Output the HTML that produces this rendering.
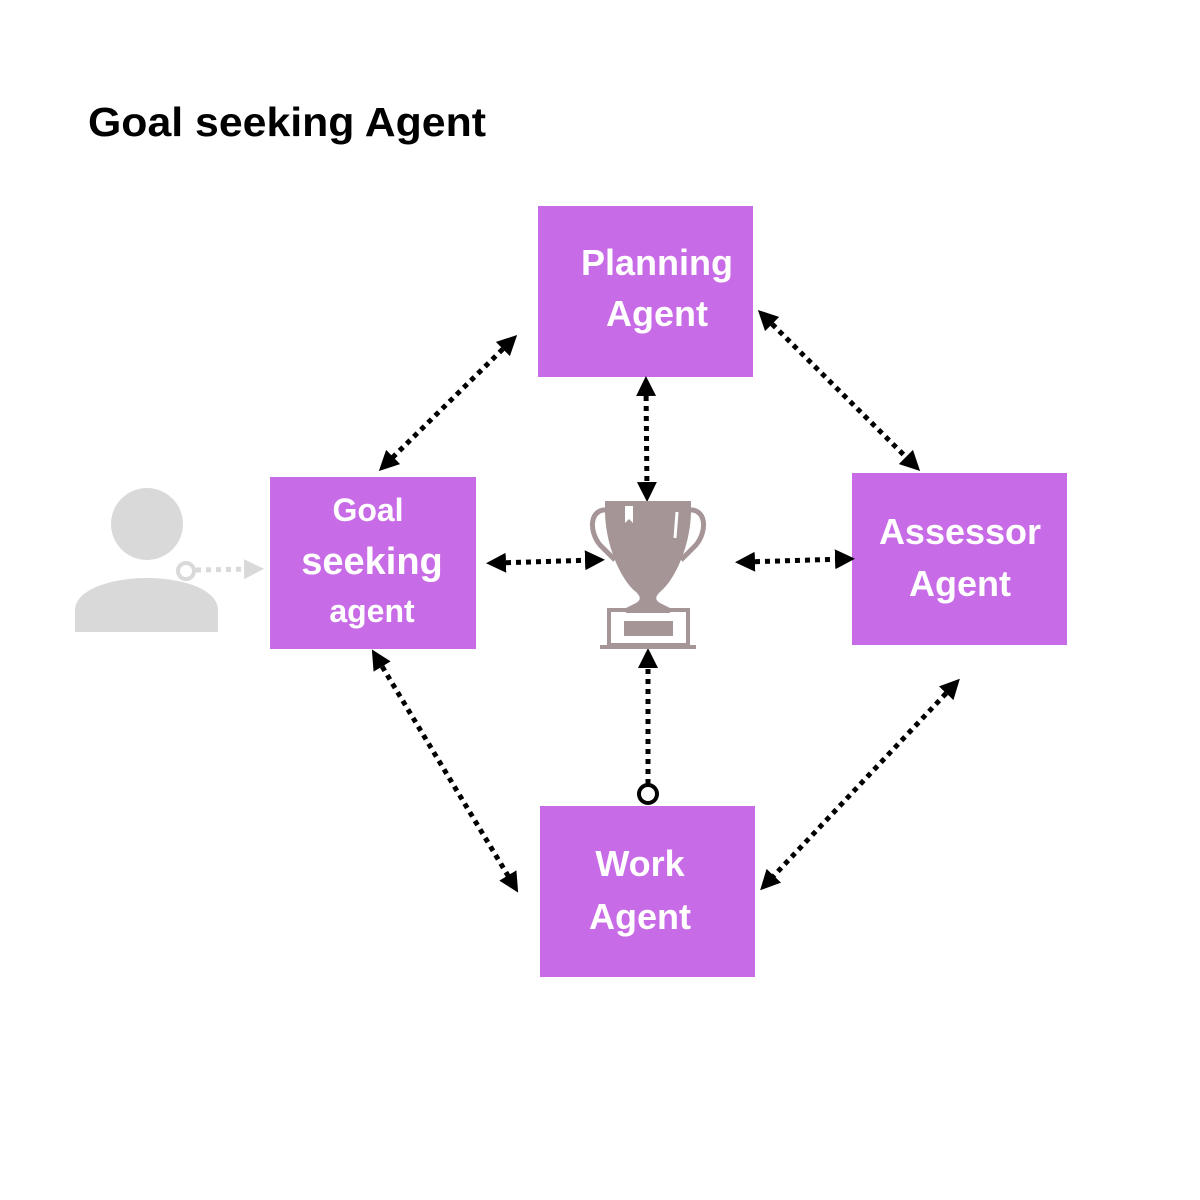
<!DOCTYPE html>
<html><head><style>
body{margin:0;background:#fff}
svg{display:block}
text{font-family:"Liberation Sans",sans-serif;font-weight:bold;fill:#fff}
</style></head><body>
<svg width="1200" height="1200" viewBox="0 0 1200 1200">
<defs>
<marker id="a" markerWidth="4" markerHeight="4" refX="2" refY="2" orient="auto-start-reverse" markerUnits="strokeWidth">
<path d="M0,0 L4,2 L0,4 Z" fill="#000"/></marker>
<marker id="g" markerWidth="4" markerHeight="4" refX="2" refY="2" orient="auto-start-reverse" markerUnits="strokeWidth">
<path d="M0,0 L4,2 L0,4 Z" fill="#d9d9d9"/></marker>
</defs>
<text x="88" y="136" style="fill:#000;font-size:41px" textLength="398" lengthAdjust="spacingAndGlyphs">Goal seeking Agent</text>

<rect x="538" y="206" width="215" height="171" fill="#c86be6"/>
<rect x="270" y="477" width="206" height="172" fill="#c86be6"/>
<rect x="852" y="473" width="215" height="172" fill="#c86be6"/>
<rect x="540" y="806" width="215" height="171" fill="#c86be6"/>

<text x="657" y="275" font-size="36" text-anchor="middle">Planning</text>
<text x="657" y="326" font-size="36" text-anchor="middle">Agent</text>
<text x="368" y="521" font-size="32" text-anchor="middle">Goal</text>
<text x="372" y="574" font-size="38" text-anchor="middle">seeking</text>
<text x="372" y="622" font-size="32" text-anchor="middle">agent</text>
<text x="960" y="544" font-size="36" text-anchor="middle">Assessor</text>
<text x="960" y="596" font-size="36" text-anchor="middle">Agent</text>
<text x="640" y="876" font-size="36" text-anchor="middle">Work</text>
<text x="640" y="929" font-size="36" text-anchor="middle">Agent</text>

<g stroke="#000" stroke-width="5" stroke-dasharray="5 5" fill="none">
<line x1="510" y1="342" x2="386" y2="464" marker-start="url(#a)" marker-end="url(#a)"/>
<line x1="765" y1="317" x2="913" y2="464" marker-start="url(#a)" marker-end="url(#a)"/>
<line x1="646" y1="386" x2="647" y2="492" marker-start="url(#a)" marker-end="url(#a)"/>
<line x1="496" y1="563" x2="595" y2="560" marker-start="url(#a)" marker-end="url(#a)"/>
<line x1="745" y1="562" x2="845" y2="559" marker-start="url(#a)" marker-end="url(#a)"/>
<line x1="377" y1="658" x2="513" y2="884" marker-start="url(#a)" marker-end="url(#a)"/>
<line x1="953" y1="686" x2="767" y2="883" marker-start="url(#a)" marker-end="url(#a)"/>
<line x1="648" y1="784" x2="648" y2="658" marker-end="url(#a)"/>
</g>
<circle cx="648" cy="794" r="9" fill="#fff" stroke="#000" stroke-width="4"/>

<circle cx="147" cy="524" r="36" fill="#d9d9d9"/>
<path d="M75,632 L75,610 C75,590 110,578 147,578 C184,578 218,590 218,610 L218,632 Z" fill="#d9d9d9"/>
<line x1="196" y1="570" x2="254" y2="569" stroke="#d9d9d9" stroke-width="5" stroke-dasharray="5 5" marker-end="url(#g)"/>
<circle cx="186" cy="571" r="8" fill="#fff" stroke="#d9d9d9" stroke-width="4"/>

<g fill="#a59596">
<path d="M605,501 L691,501 L691,510 C691,545 675,580 660,592 C655,597 655,600 660,603 L670,608 L670,613 L626,613 L626,608 L636,603 C641,600 641,597 636,592 C621,580 605,545 605,510 Z"/>
<path d="M608,510 C590,508 588,530 600,545 L615,560" stroke="#a59596" stroke-width="5" fill="none"/>
<path d="M688,510 C706,508 708,530 696,545 L681,560" stroke="#a59596" stroke-width="5" fill="none"/>
<rect x="609" y="610" width="79" height="35" fill="none" stroke="#a59596" stroke-width="4"/>
<rect x="624" y="621" width="49" height="15"/>
<rect x="600" y="645" width="96" height="4"/>
</g>
<path d="M625,506 L625,523 L629,519 L633,523 L633,506 Z" fill="#fff"/>
<path d="M677,512 L675,538" stroke="#fff" stroke-width="3"/>
</svg>
</body></html>
